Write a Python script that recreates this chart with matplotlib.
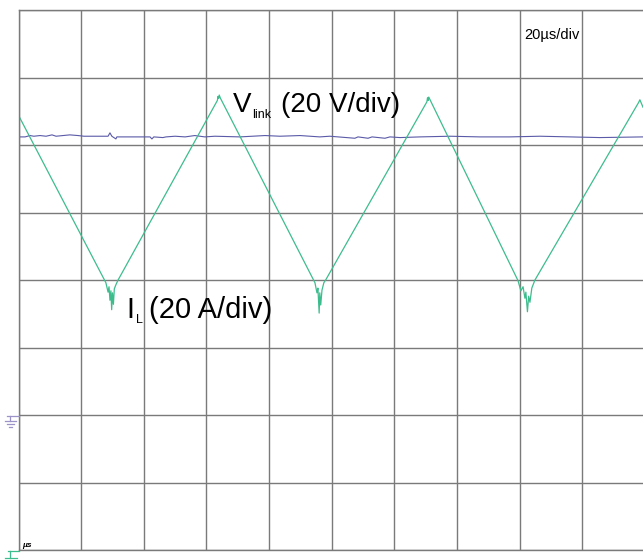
import matplotlib.pyplot as plt
from matplotlib.lines import Line2D

plt.rcParams['font.family'] = ['Liberation Sans', 'DejaVu Sans']

# Corriente del inductor (divisiones, 0 = borde inferior), tiempo en us
t_il = [0.0, 27.9, 28.6, 28.9, 29.2, 29.5, 29.75, 30.0, 30.3, 30.6, 31.1, 31.8,
        63.5, 63.7, 63.9, 64.1, 64.4,
        94.65, 95.3, 95.6, 96.0, 96.2, 96.5, 96.9, 97.5, 98.2,
        130.4, 130.6, 130.8, 131.0, 131.3,
        159.5, 160.4, 161.1, 161.7, 162.0, 162.5, 162.9, 163.3, 163.9, 164.9,
        198.0, 198.4, 199.4]
il_div = [6.44, 3.96, 3.82, 3.90, 3.70, 3.84, 3.56, 3.81, 3.64, 3.87, 3.93, 4.00,
          6.66, 6.72, 6.69, 6.74, 6.70,
          3.96, 3.81, 3.88, 3.51, 3.81, 3.63, 3.85, 3.96, 4.01,
          6.64, 6.70, 6.66, 6.71, 6.68,
          3.99, 3.84, 3.90, 3.73, 3.82, 3.53, 3.76, 3.67, 3.88, 4.00,
          6.63, 6.67, 6.56]

# Tension del bus de continua
t_vlink = [0.0, 2.1, 3.7, 4.9, 6.9, 8.8, 10.7, 12.0, 14.2, 16.4, 19.0, 20.9,
           24.4, 28.6, 29.2, 29.8, 31.1, 31.4, 42.0, 42.6, 43.2, 46.1, 47.1,
           50.0, 53.2, 56.3, 59.5, 62.7, 70.7, 78.7, 83.5, 89.9, 96.2, 99.4,
           107.4, 108.4, 111.6, 112.9, 117.0, 118.6, 121.8, 128.2, 137.8,
           147.3, 156.9, 166.5, 176.1, 185.6, 199.4]
vlink_div = [6.12, 6.12, 6.14, 6.13, 6.14, 6.13, 6.15, 6.13, 6.14, 6.15, 6.14, 6.13,
             6.13, 6.13, 6.18, 6.13, 6.09, 6.12, 6.12, 6.09, 6.12, 6.11, 6.12,
             6.13, 6.12, 6.14, 6.12, 6.13, 6.12, 6.14, 6.13, 6.14, 6.12, 6.13,
             6.10, 6.12, 6.10, 6.12, 6.10, 6.12, 6.11, 6.12, 6.13,
             6.12, 6.12, 6.13, 6.12, 6.11, 6.12]

W, H = 643, 560
verde = '#3dbd8e'
azul = '#5a5aa8'
gris = '#7a7a7a'


def px(x, y):
    # pixeles de la imagen -> fraccion de figura
    return x / W, 1 - y / H


fig = plt.figure(figsize=(W / 100, H / 100), dpi=100)
ax = fig.add_axes([18.5 / W, 10 / H, 624.5 / W, 540 / H])
ax.set_xlim(0, 199.4)
ax.set_ylim(0, 8)
ax.set_xticks(range(0, 200, 20))
ax.set_yticks(range(0, 9))
ax.grid(True, color=gris, lw=1.0)
ax.tick_params(length=0, labelbottom=False, labelleft=False)
for lado in ['left', 'top', 'bottom']:
    ax.spines[lado].set_color(gris)
    ax.spines[lado].set_linewidth(1.0)
ax.spines['right'].set_visible(False)

ax.plot(t_vlink, vlink_div, color=azul, lw=0.8)
ax.plot(t_il, il_div, color=verde, lw=0.9)

# Etiquetas de canales
fig.text(*px(233, 112), 'V', fontsize=20, va='baseline')
fig.text(*px(252, 118), 'link', fontsize=9, va='baseline')
fig.text(*px(281, 112), '(20 V/div)', fontsize=20, va='baseline')

fig.text(*px(126, 318), 'I', fontsize=21, va='baseline')
fig.text(*px(136, 323), 'L', fontsize=9, va='baseline')
fig.text(*px(149, 318), '(20 A/div)', fontsize=21, va='baseline')

fig.text(*px(524, 39), '20\u00b5s/div', fontsize=10.5, va='baseline')
fig.text(*px(22, 547), '\u00b5s', fontsize=6, fontweight='bold',
         style='italic', va='baseline')

# Marcadores de referencia (masa) de cada canal
lila = '#9c94c8'
marcas = [
    ([7, 18.5], [415.5, 415.5], lila),
    ([10, 10], [415.5, 421], lila),
    ([5, 16], [421, 421], lila),
    ([7, 14], [424, 424], lila),
    ([9, 12], [427, 427], lila),
    ([8, 18.5], [551, 551], verde),
    ([10, 10], [551, 558], verde),
    ([5, 17], [558, 558], verde),
]
for xs, ys, c in marcas:
    fx = [x / W for x in xs]
    fy = [1 - y / H for y in ys]
    fig.add_artist(Line2D(fx, fy, color=c, lw=0.9, transform=fig.transFigure))

fig.savefig('out.png', dpi=100)
